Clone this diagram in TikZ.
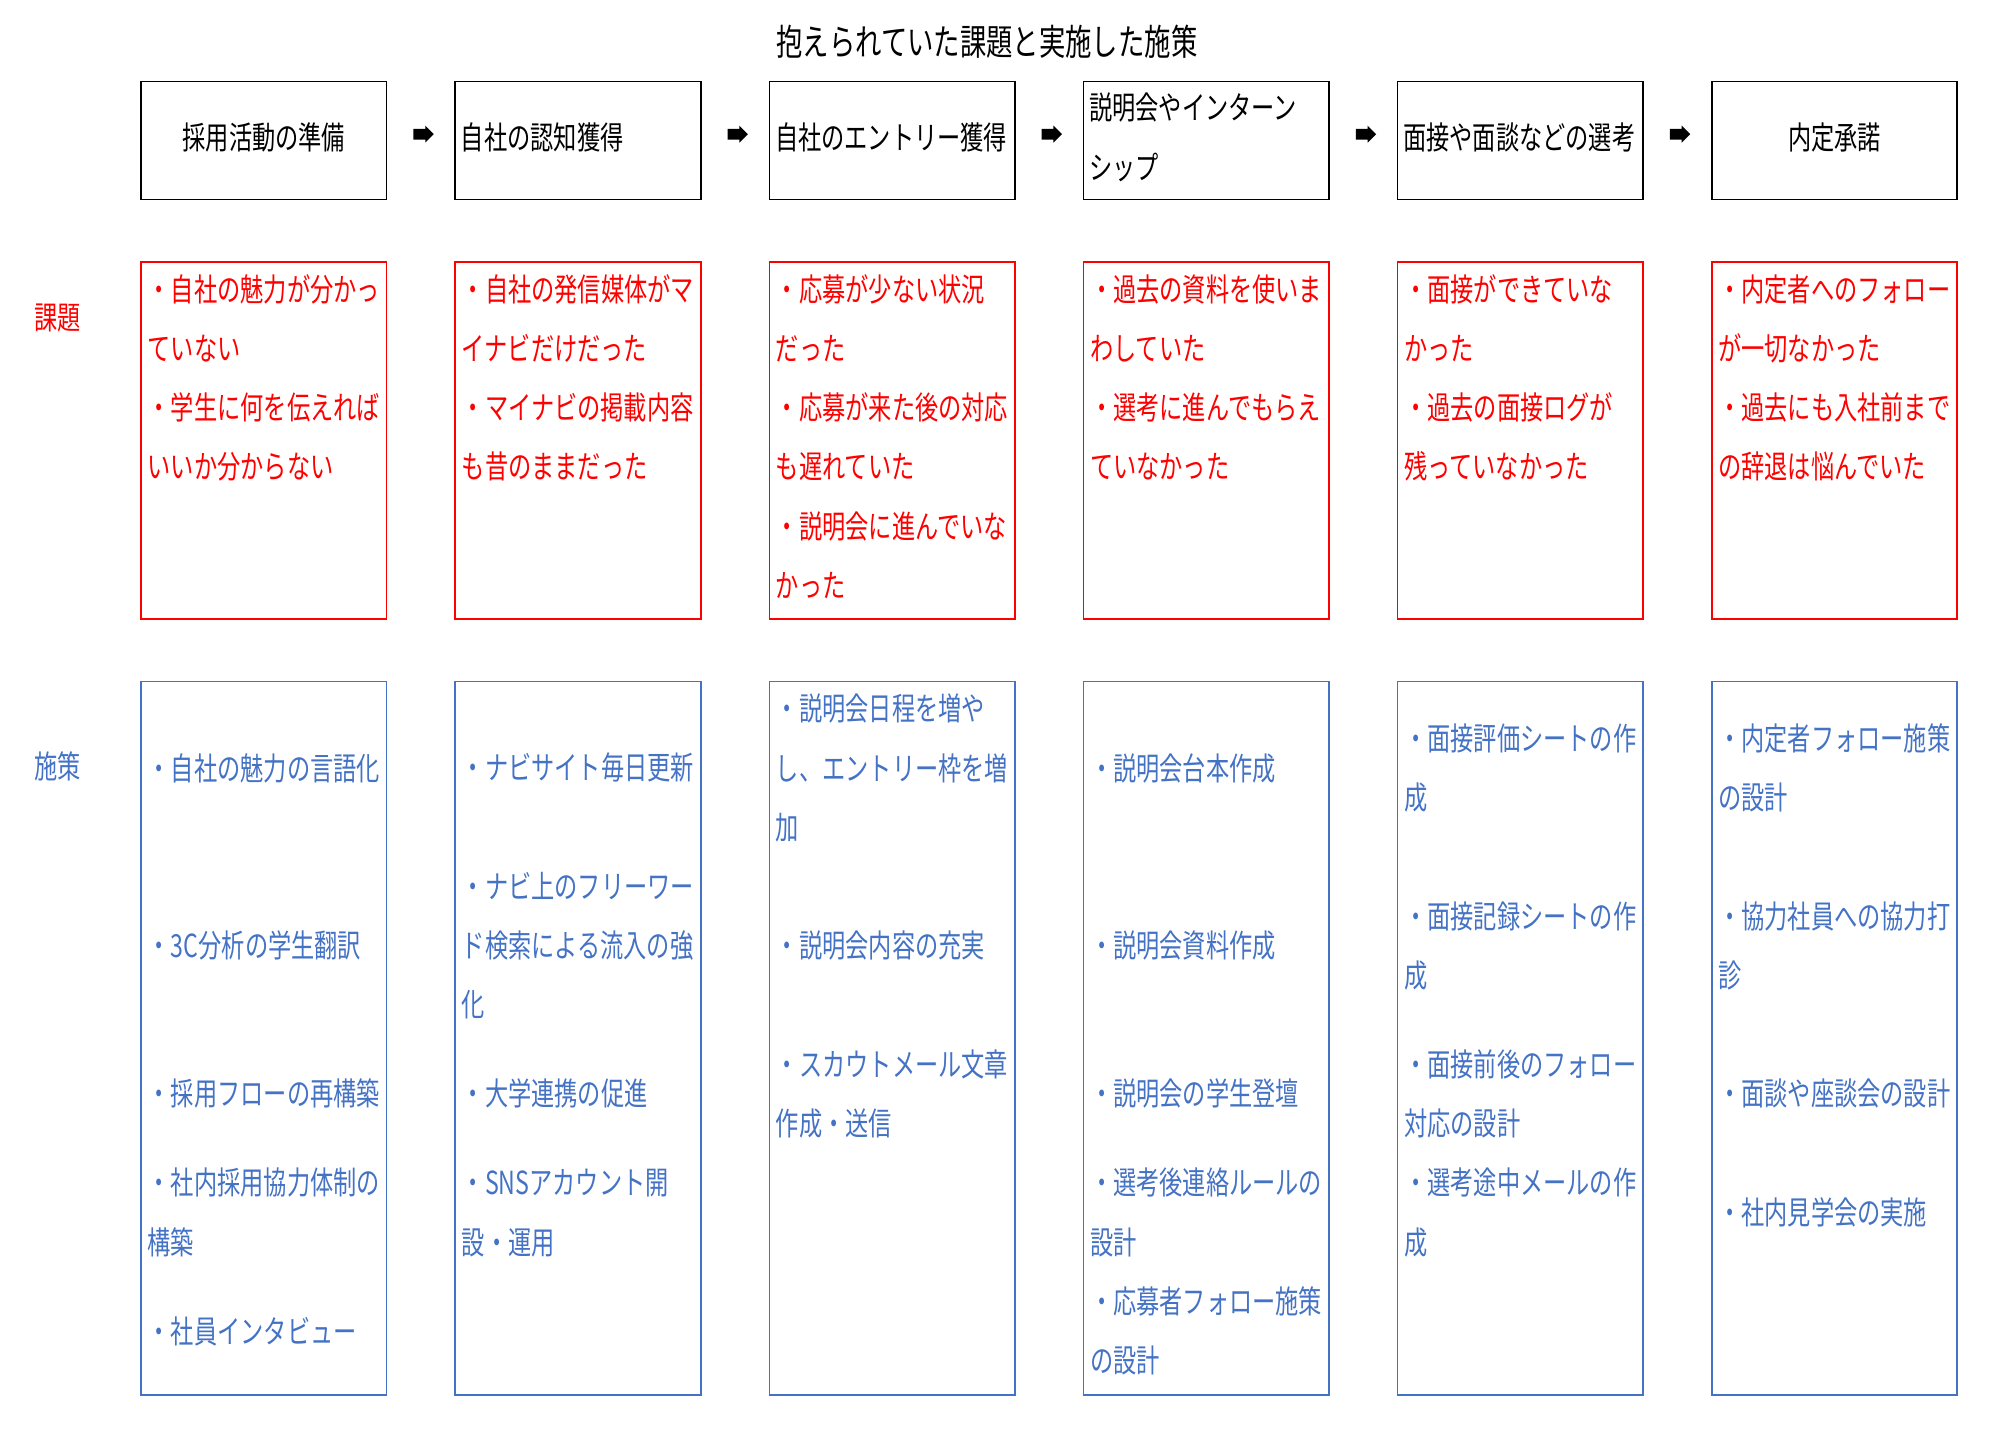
\documentclass[tikz,border=0pt]{standalone}
\usepackage{fontspec}
\newfontfamily\jp[FakeStretch=0.73]{Noto Sans CJK JP}
\usetikzlibrary{positioning, calc, shapes.arrows}
\definecolor{kred}{RGB}{255,0,0}
\definecolor{sblue}{RGB}{68,114,196}

\begin{document}
\begin{tikzpicture}[x=1pt, y=-1pt, font=\jp\fontsize{25}{46.6}\selectfont,
      hd/.style ={draw=black, line width=1.3pt, outer sep=0pt, minimum width=193pt, minimum height=93pt,
                  inner xsep=4.5pt, text width=184pt, text depth=7pt},
      kb/.style ={draw=kred, line width=1.3pt, outer sep=0pt, minimum width=193pt, minimum height=281pt, inner sep=0pt},
      sb/.style ={draw=sblue, line width=1.3pt, outer sep=0pt, minimum width=193pt, minimum height=561pt, inner sep=0pt},
      kt/.style ={text=kred, anchor=north west, inner xsep=5pt, inner ysep=0pt, align=left},
      st/.style ={text=sblue, anchor=north west, inner xsep=5pt, inner ysep=0pt, align=left},
      arr/.style={single arrow, fill=black, inner xsep=0pt, inner ysep=4pt, minimum height=16pt,
                  single arrow head extend=2.5pt, yshift=5pt}]
    \useasboundingbox (0,0) rectangle (1568,1129);
    \node[font=\jp\fontsize{28.4}{34}\selectfont] (title) at (776,33) {抱えられていた課題と実施した施策};
    % steps
    \node[hd, align=center, anchor=north west] (h1) at (111,64) {採用活動の準備};
    \node[hd, align=left, right=54pt of h1] (h2) {自社の認知獲得};
    \node[hd, align=left, right=54pt of h2] (h3) {自社のエントリー獲得};
    \node[hd, align=left, text depth=53.6pt, right=54pt of h3] (h4) {説明会やインターン\\シップ};
    \node[hd, align=left, right=54pt of h4] (h5) {面接や面談などの選考};
    \node[hd, align=center, right=54pt of h5] (h6) {内定承諾};
    \node[arr] (a1) at ($(h1.east)!0.5!(h2.west)$) {};
    \node[arr] (a2) at ($(h2.east)!0.5!(h3.west)$) {};
    \node[arr] (a3) at ($(h3.east)!0.5!(h4.west)$) {};
    \node[arr] (a4) at ($(h4.east)!0.5!(h5.west)$) {};
    \node[arr] (a5) at ($(h5.east)!0.5!(h6.west)$) {};
    % issues
    \node[text=kred] (lk) at (45,250) {課題};
    \node[kb, below=49pt of h1] (k1) {};
    \node[kb, below=49pt of h2] (k2) {};
    \node[kb, below=49pt of h3] (k3) {};
    \node[kb, below=49pt of h4] (k4) {};
    \node[kb, below=49pt of h5] (k5) {};
    \node[kb, below=49pt of h6] (k6) {};
    \node[kt] (k1t) at ([yshift=-9.5pt]k1.north west) {・自社の魅力が分かっ\\ていない\\・学生に何を伝えれば\\いいか分からない};
    \node[kt] (k2t) at ([yshift=-9.5pt]k2.north west) {・自社の発信媒体がマ\\イナビだけだった\\・マイナビの掲載内容\\も昔のままだった};
    \node[kt] (k3t) at ([yshift=-9.5pt]k3.north west) {・応募が少ない状況\\だった\\・応募が来た後の対応\\も遅れていた\\・説明会に進んでいな\\かった};
    \node[kt] (k4t) at ([yshift=-9.5pt]k4.north west) {・過去の資料を使いま\\わしていた\\・選考に進んでもらえ\\ていなかった};
    \node[kt] (k5t) at ([yshift=-9.5pt]k5.north west) {・面接ができていな\\かった\\・過去の面接ログが\\残っていなかった};
    \node[kt] (k6t) at ([yshift=-9.5pt]k6.north west) {・内定者へのフォロー\\が一切なかった\\・過去にも入社前まで\\の辞退は悩んでいた};
    % measures
    \node[text=sblue] (ls) at (45,603) {施策};
    \node[sb, below=49pt of k1] (s1) {};
    \node[sb, below=49pt of k2] (s2) {};
    \node[sb, below=49pt of k3] (s3) {};
    \node[sb, below=49pt of k4] (s4) {};
    \node[sb, below=49pt of k5] (s5) {};
    \node[sb, below=49pt of k6] (s6) {};
    \node[st] (s1t) at ([yshift=-56.1pt]s1.north west) {・自社の魅力の言語化\\[93.2pt]・3C分析の学生翻訳\\[69.9pt]・採用フローの再構築\\[23.3pt]・社内採用協力体制の\\構築\\[23.3pt]・社員インタビュー};
    \node[st] (s2t) at ([yshift=-56.1pt]s2.north west) {・ナビサイト毎日更新\\[46.6pt]・ナビ上のフリーワー\\ド検索による流入の強\\化\\[23.3pt]・大学連携の促進\\[23.3pt]・SNSアカウント開\\設・運用};
    \node[st] (s3t) at ([yshift=-9.5pt]s3.north west) {・説明会日程を増や\\し、エントリー枠を増\\加\\[46.6pt]・説明会内容の充実\\[46.6pt]・スカウトメール文章\\作成・送信};
    \node[st] (s4t) at ([yshift=-56.1pt]s4.north west) {・説明会台本作成\\[93.2pt]・説明会資料作成\\[69.9pt]・説明会の学生登壇\\[23.3pt]・選考後連絡ルールの\\設計\\・応募者フォロー施策\\の設計};
    \node[st] (s5t) at ([yshift=-32.8pt]s5.north west) {・面接評価シートの作\\成\\[46.6pt]・面接記録シートの作\\成\\[23.3pt]・面接前後のフォロー\\対応の設計\\・選考途中メールの作\\成};
    \node[st] (s6t) at ([yshift=-32.8pt]s6.north west) {・内定者フォロー施策\\の設計\\[46.6pt]・協力社員への協力打\\診\\[46.6pt]・面談や座談会の設計\\[46.6pt]・社内見学会の実施};
\end{tikzpicture}
\end{document}
